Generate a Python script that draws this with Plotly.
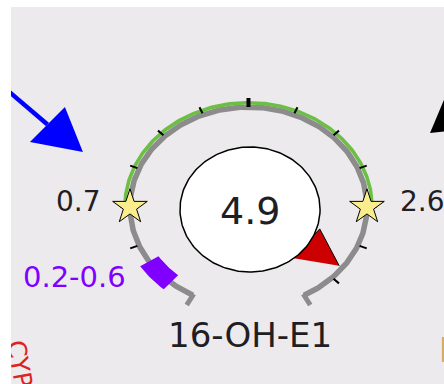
import numpy as np
import plotly.graph_objects as go

# ---------------- data ----------------
METABOLITE = "16-OH-E1"
MEASURED_VALUE = 4.9
REFERENCE_LIMITS = [0.7, 2.6]          # lower / upper reference limits (stars)
REFERENCE_LABELS = ["0.7", "2.6"]
PRIOR_RANGE = [0.2, 0.6]               # purple band
PRIOR_LABEL = "0.2-0.6"
ENZYME_LABEL = "CYP"

# gauge scale: value -> degrees on the dial
SCALE_VALUES = [0.2, 0.6, 0.7, 2.6]
SCALE_DEGREES = [229, 213, 180, 0]
GAUGE_START, GAUGE_END = 242, -62
TICK_DEGREES = [225 - 22.5 * k for k in range(13)]
MAJOR_TICK = 90
POINTER_DEG = -37.5

# ---------------- styles ----------------
BG = "#ECEAEC"
GRAY = "#8C8C8C"
GREEN = "#6CBF44"
PURPLE = "#8000FF"
STAR = "#FAEE8C"
TEXT = "#1E1E24"
FONT = "DejaVu Sans"


def ang(v):
    return float(np.interp(v, SCALE_VALUES, SCALE_DEGREES))


def pol(r, deg):
    a = np.radians(deg)
    return r * np.cos(a), r * np.sin(a)


fig = go.Figure()


def add_line(xs, ys, color, width):
    fig.add_trace(go.Scatter(x=xs, y=ys, mode="lines", line=dict(color=color, width=width),
                             hoverinfo="skip", showlegend=False))


def add_poly(xs, ys, fill, line_color=None, line_width=0):
    fig.add_trace(go.Scatter(x=list(xs), y=list(ys), mode="lines", fill="toself", fillcolor=fill,
                             line=dict(color=line_color or fill, width=line_width),
                             hoverinfo="skip", showlegend=False))


# incoming edges (arrows from neighbouring nodes)
add_line([-2.097, -1.696], [1.23, 0.825], "#0000FF", 4.5)
add_poly([-1.397, -1.844, -1.549], [0.55, 0.65, 1.00], "#0000FF")
add_poly([1.532, 1.66, 2.02], [0.74, 1.10, 0.80], "#000000")

# gauge track
t = np.linspace(GAUGE_START, GAUGE_END, 400)
gx, gy = pol(1.0, t)
add_line(gx, gy, GRAY, 5.5)
for end in (GAUGE_START, GAUGE_END):
    x0, y0 = pol(0.985, end)
    x1, y1 = pol(1.11, end)
    add_line([x0, x1], [y0, y1], GRAY, 5)

# reference range (green)
tg = np.linspace(ang(REFERENCE_LIMITS[0]), ang(REFERENCE_LIMITS[1]), 200)
rx_, ry_ = pol(1.043, tg)
add_line(rx_, ry_, GREEN, 3.6)

# ticks
tx, ty = [], []
for d in TICK_DEGREES:
    if d == MAJOR_TICK:
        continue
    a0 = pol(1.015, d)
    a1 = pol(1.08, d)
    tx += [a0[0], a1[0], None]
    ty += [a0[1], a1[1], None]
add_line(tx, ty, "#000000", 2)
m0 = pol(1.0, MAJOR_TICK)
m1 = pol(1.09, MAJOR_TICK)
add_line([m0[0], m1[0]], [m0[1], m1[1]], "#000000", 4)

# prior range band (purple)
a_hi, a_lo = ang(PRIOR_RANGE[1]), ang(PRIOR_RANGE[0])
tb = np.linspace(a_hi, a_lo, 30)
ox, oy = pol(1.09, tb)
ix, iy = pol(0.905, tb[::-1])
add_poly(np.concatenate([ox, ix]), np.concatenate([oy, iy]), PURPLE)

# reference limit stars
sx, sy = [], []
for v in REFERENCE_LIMITS:
    p = pol(1.0, ang(v))
    sx.append(p[0])
    sy.append(p[1])
fig.add_trace(go.Scatter(x=sx, y=sy, mode="markers",
                         marker=dict(symbol="star", size=26, color=STAR,
                                     line=dict(color="#000000", width=1)),
                         hoverinfo="skip", showlegend=False))

# red pointer (behind the value bubble)
p_tip = pol(0.965, POINTER_DEG)
p_a = pol(0.64, POINTER_DEG + 17.5)
p_b = pol(0.63, POINTER_DEG - 16.5)
add_poly([p_tip[0], p_a[0], p_b[0]], [p_tip[1], p_a[1], p_b[1]], "#CC0000", "#000000", 1)

# value bubble
te = np.linspace(0, 360, 200)
ex = 0.013 + 0.591 * np.cos(np.radians(te))
ey = -0.025 + 0.625 * np.sin(np.radians(te))
add_poly(ex, ey, "#FFFFFF", "#000000", 1.5)

# tan edge at bottom right
add_line([1.641, 1.641], [-1.30, -1.55], "#D4AA66", 2)

ann = []
ann.append(dict(x=0.013, y=-0.04, text=f"{MEASURED_VALUE}", font=dict(size=38, color=TEXT, family=FONT),
                showarrow=False, xanchor="center", yanchor="middle"))
ann.append(dict(x=0.013, y=-1.28, text=METABOLITE, font=dict(size=34, color=TEXT, family=FONT),
                showarrow=False, xanchor="center", yanchor="middle"))
ann.append(dict(x=-1.228, y=0.06, text=REFERENCE_LABELS[0], font=dict(size=28, color=TEXT, family=FONT),
                showarrow=False, xanchor="right", yanchor="middle"))
ann.append(dict(x=1.262, y=0.06, text=REFERENCE_LABELS[1], font=dict(size=28, color=TEXT, family=FONT),
                showarrow=False, xanchor="left", yanchor="middle"))
ann.append(dict(x=-1.017, y=-0.70, text=PRIOR_LABEL, font=dict(size=29, color=PURPLE, family=FONT),
                showarrow=False, xanchor="right", yanchor="middle"))
ann.append(dict(x=-1.928, y=-1.56, text=ENZYME_LABEL, font=dict(size=25, color="#DD2222", family=FONT),
                showarrow=False, xanchor="center", yanchor="middle", textangle=80))
# white page margin covering anything left of the plot area
ann.append(dict(xref="paper", yref="paper", x=0, y=0.5, xanchor="right", yanchor="middle",
                text=" ", width=11, height=400, bgcolor="#FFFFFF", borderpad=0, borderwidth=0,
                showarrow=False))

fig.update_layout(
    width=444, height=384,
    margin=dict(l=11, r=0, t=7, b=0),
    paper_bgcolor="#FFFFFF", plot_bgcolor=BG,
    xaxis=dict(range=[-2.004, 1.650], visible=False, fixedrange=True),
    yaxis=dict(range=[-1.77, 2.0], visible=False, fixedrange=True),
    annotations=ann,
    showlegend=False,
    hovermode=False,
)

fig.write_html("out.html", config={"displayModeBar": False, "staticPlot": True},
               post_script="document.body.style.margin='0';document.body.style.overflow='hidden';")
